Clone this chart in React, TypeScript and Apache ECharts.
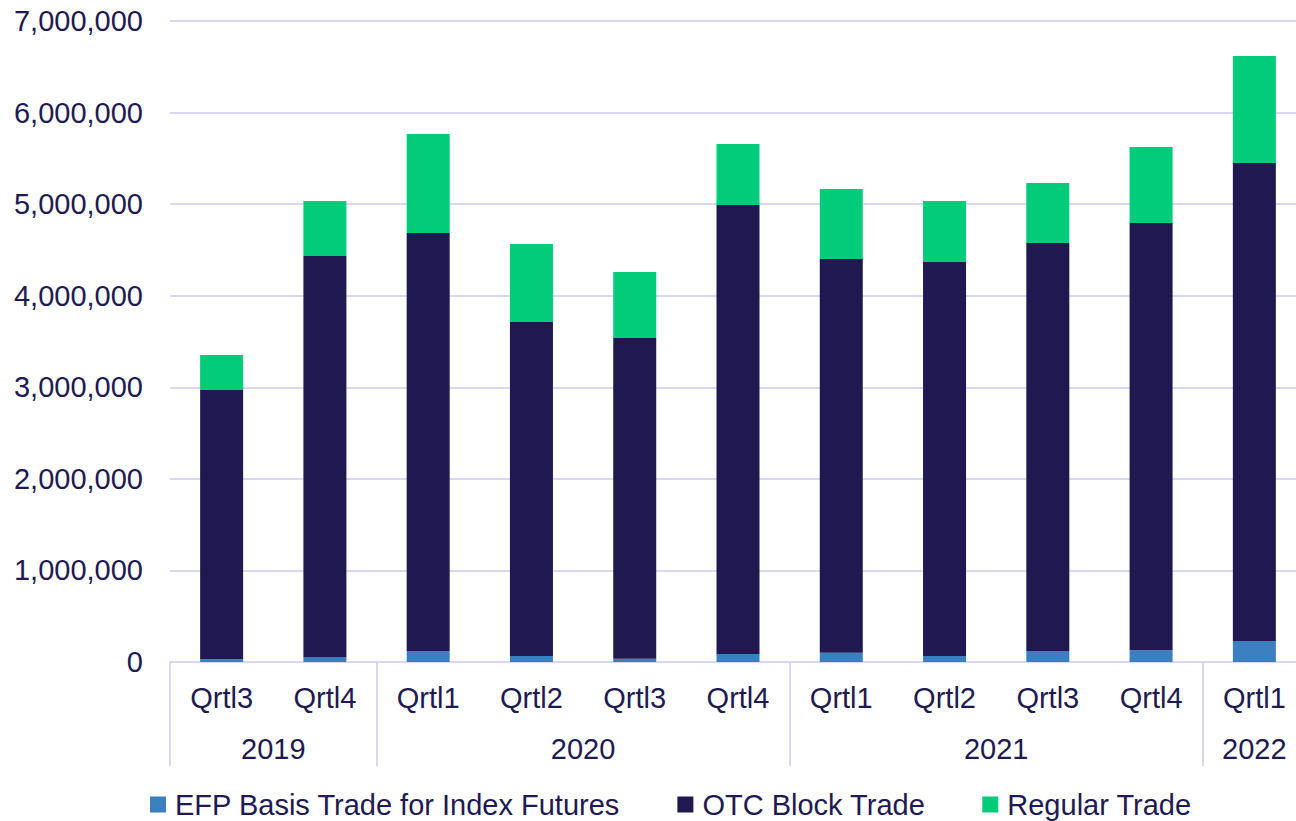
import React, { useEffect, useRef } from "react";
import * as echarts from "echarts";

const quarters = ["Qrtl3", "Qrtl4", "Qrtl1", "Qrtl2", "Qrtl3", "Qrtl4", "Qrtl1", "Qrtl2", "Qrtl3", "Qrtl4", "Qrtl1"];
const yearLabels: [number, string][] = [
  [1, "2019"],
  [4, "2020"],
  [8, "2021"],
  [10.5, "2022"],
];
const yearBoundaries = [0, 2, 6, 10];

const efpBasis = [30000, 50000, 120000, 65000, 35000, 87000, 100000, 65000, 120000, 128000, 230000];
const otcBlock = [2940000, 4384000, 4565000, 3648000, 3503000, 4904000, 4301000, 4303000, 4456000, 4666000, 5219000];
const regular = [383000, 600000, 1081000, 852000, 721000, 666000, 764000, 666000, 655000, 830000, 1169000];

const TEXT = "#211a52";
const GRID = "#d9d7f1";
const FONT = "'Liberation Sans', Arial, sans-serif";

export default function App() {
  const ref = useRef<HTMLDivElement>(null);
  useEffect(() => {
    if (!ref.current) return;
    const chart = echarts.init(ref.current, undefined, { renderer: "svg" });
    const fs = 29;
    chart.setOption({
      animation: false,
      textStyle: { fontFamily: FONT, color: TEXT },
      grid: {
        left: 170,
        width: 1136,
        top: 21,
        bottom: 159,
        containLabel: false,
        outerBoundsMode: "none",
      },
      legend: {
        left: 150,
        top: 790,
        padding: 0,
        itemWidth: 16,
        itemHeight: 16,
        itemGap: 57,
        icon: "rect",
        textStyle: { fontSize: fs, color: TEXT, fontFamily: FONT, padding: [0, 0, 0, 4] },
        data: ["EFP Basis Trade for Index Futures", "OTC Block Trade", "Regular Trade"],
      },
      xAxis: [
        {
          type: "category",
          data: quarters,
          position: "bottom",
          axisLine: { show: true, lineStyle: { color: GRID, width: 2 } },
          axisTick: {
            show: true,
            length: 104,
            interval: (i: number) => yearBoundaries.indexOf(i) >= 0,
            lineStyle: { color: GRID, width: 2 },
          },
          axisLabel: { fontSize: fs, color: TEXT, margin: 21, interval: 0, fontFamily: FONT },
        },
        {
          type: "value",
          min: 0,
          max: 11,
          interval: 0.5,
          position: "bottom",
          axisLine: { show: false },
          axisTick: { show: false },
          splitLine: { show: false },
          axisLabel: {
            fontSize: fs,
            color: TEXT,
            margin: 72,
            fontFamily: FONT,
            showMinLabel: true,
            showMaxLabel: true,
            formatter: (v: number) => {
              const f = yearLabels.find((y) => Math.abs(y[0] - v) < 1e-6);
              return f ? f[1] : "";
            },
          },
        },
      ],
      yAxis: {
        type: "value",
        min: 0,
        max: 7000000,
        interval: 1000000,
        axisLine: { show: false },
        axisTick: { show: false },
        splitLine: { show: true, lineStyle: { color: GRID, width: 2 } },
        axisLabel: {
          fontSize: fs,
          color: TEXT,
          margin: 27,
          fontFamily: FONT,
          formatter: (v: number) => v.toLocaleString("en-US"),
        },
      },
      series: [
        {
          name: "EFP Basis Trade for Index Futures",
          type: "bar",
          stack: "total",
          barWidth: 43,
          data: efpBasis,
          itemStyle: { color: "#3b7fc0" },
        },
        {
          name: "OTC Block Trade",
          type: "bar",
          stack: "total",
          barWidth: 43,
          data: otcBlock,
          itemStyle: { color: "#201850" },
        },
        {
          name: "Regular Trade",
          type: "bar",
          stack: "total",
          barWidth: 43,
          data: regular,
          itemStyle: { color: "#00cc7a" },
        },
      ],
    });
    return () => chart.dispose();
  }, []);
  return (
    <div
      ref={ref}
      style={{ position: "fixed", left: 0, top: 0, width: 1296, height: 821, background: "#fff" }}
    />
  );
}
